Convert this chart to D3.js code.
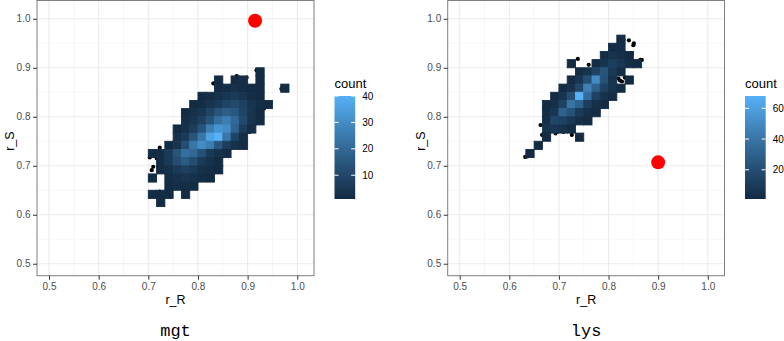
<!DOCTYPE html>
<html>
<head>
<meta charset="UTF-8">
<script src="https://d3js.org/d3.v7.min.js"></script>
<style>
  body { margin: 0; background: #fff; }
  svg { display: block; font-family: "Liberation Sans", Arial, sans-serif; }
</style>
</head>
<body>
<svg width="784" height="341"></svg>
<script>
const axisTicks = [0.5, 0.6, 0.7, 0.8, 0.9, 1.0];
const minorTicks = [0.55, 0.65, 0.75, 0.85, 0.95];
const binOrigin = 0.5, binWidth = 1 / 60;

// bin rows: [row index, first column index, counts...]
const mgtBins = [
  [23, 25, [1]],
  [22, 20, [1]], [22, 22, [1, 2]], [22, 25, [1]],
  [21, 20, [1, 2, 3, 2, 1, 1]], [21, 28, [1]],
  [20, 18, [1, 2, 3, 5, 6, 4, 2, 1]],
  [19, 17, [1, 2, 4, 6, 9, 11, 8, 4, 2, 1]],
  [18, 16, [1, 3, 5, 9, 14, 17, 15, 9, 4, 1]],
  [17, 16, [2, 4, 8, 14, 22, 26, 20, 11, 4, 1]],
  [16, 15, [1, 3, 7, 14, 26, 32, 30, 18, 7, 2]],
  [15, 15, [3, 6, 14, 24, 36, 40, 24, 9, 2]],
  [14, 14, [1, 4, 12, 24, 30, 26, 15, 7, 3, 1]],
  [13, 12, [1, 2, 6, 14, 22, 20, 13, 6, 3, 1]],
  [12, 13, [2, 6, 12, 16, 12, 6, 3, 1]],
  [11, 13, [1, 3, 6, 8, 6, 3, 2, 1]],
  [10, 12, [1]], [10, 14, [2, 3, 4, 3, 2, 1]],
  [9, 14, [1, 2, 2, 1]],
  [8, 12, [1, 1, 1]], [8, 16, [1]],
  [7, 13, [1]]
];
const lysBins = [
  [27, 19, [2]],
  [26, 18, [1, 3]],
  [25, 17, [2, 5, 4, 1]],
  [24, 13, [1]], [24, 16, [2, 6, 12, 8, 3, 1]],
  [23, 14, [2, 6, 14, 24, 9, 3]],
  [22, 13, [2, 8, 20, 50, 22, 6]], [22, 20, [1]],
  [21, 12, [1, 5, 16, 45, 30, 14, 6, 2]],
  [20, 11, [1, 6, 20, 68, 36, 14, 5, 2]],
  [19, 10, [1, 4, 14, 40, 30, 12, 4, 2]],
  [18, 10, [2, 8, 30, 22, 10, 4, 2]],
  [17, 10, [3, 16, 14, 8, 4, 2]],
  [16, 10, [6, 8, 5, 2]],
  [15, 10, [1]], [15, 14, [1]],
  [14, 9, [1]],
  [13, 8, [1]]
];

// raw points that peek out around the bins
const mgtPoints = [[0.918, 0.895], [0.878, 0.883], [0.898, 0.880], [0.831, 0.868], [0.915, 0.810],
  [0.933, 0.817], [0.901, 0.776], [0.904, 0.769], [0.884, 0.749], [0.864, 0.735], [0.968, 0.857],
  [0.723, 0.737], [0.703, 0.717], [0.710, 0.698], [0.707, 0.691], [0.710, 0.644], [0.723, 0.647], [0.717, 0.715]];
const lysPoints = [[0.841, 0.956], [0.851, 0.950], [0.847, 0.929], [0.864, 0.916], [0.867, 0.916],
  [0.738, 0.918], [0.820, 0.878], [0.827, 0.872], [0.823, 0.874], [0.833, 0.880], [0.663, 0.783],
  [0.666, 0.763], [0.672, 0.769], [0.693, 0.766], [0.696, 0.769], [0.709, 0.769], [0.726, 0.763],
  [0.636, 0.719], [0.632, 0.718], [0.760, 0.906], [0.780, 0.912], [0.830, 0.957], [0.850, 0.946]];

const mgtTrue = [0.915, 0.996];
const lysTrue = [0.900, 0.707];

const mgtBreaks = [10, 20, 30, 40];
const lysBreaks = [20, 40, 60];

const panels = [
  { name: "mgt", bins: mgtBins, points: mgtPoints, truth: mgtTrue, breaks: mgtBreaks, left: 37, right: 314 },
  { name: "lys", bins: lysBins, points: lysPoints, truth: lysTrue, breaks: lysBreaks, left: 447.7, right: 724.5 }
];

const panelTop = 0.5, panelBottom = 275.7;
const svg = d3.select("svg");

panels.forEach(p => {
  const cells = [];
  p.bins.forEach(([row, col, counts]) => {
    counts.forEach((c, k) => cells.push({ i: col + k, j: row, count: c }));
  });

  const x = d3.scaleLinear().domain([0.4758, 1.0337]).range([p.left, p.right]);
  const y = d3.scaleLinear().domain([0.4756, 1.0373]).range([panelBottom, panelTop]);
  const extent = d3.extent(cells, d => d.count);
  const fill = d3.scaleLinear().domain(extent).range(["#132B43", "#56B1F7"]).interpolate(d3.interpolateLab);

  const g = svg.append("g");

  // grid
  g.selectAll(".minx").data(minorTicks).enter().append("line")
    .attr("x1", d => x(d)).attr("x2", d => x(d)).attr("y1", panelTop).attr("y2", panelBottom)
    .attr("stroke", "#F2F2F2").attr("stroke-width", 0.6);
  g.selectAll(".miny").data(minorTicks).enter().append("line")
    .attr("y1", d => y(d)).attr("y2", d => y(d)).attr("x1", p.left).attr("x2", p.right)
    .attr("stroke", "#F2F2F2").attr("stroke-width", 0.6);
  g.selectAll(".majx").data(axisTicks).enter().append("line")
    .attr("x1", d => x(d)).attr("x2", d => x(d)).attr("y1", panelTop).attr("y2", panelBottom)
    .attr("stroke", "#EBEBEB").attr("stroke-width", 1.1);
  g.selectAll(".majy").data(axisTicks).enter().append("line")
    .attr("y1", d => y(d)).attr("y2", d => y(d)).attr("x1", p.left).attr("x2", p.right)
    .attr("stroke", "#EBEBEB").attr("stroke-width", 1.1);

  // points under the bins
  g.selectAll(".pt").data(p.points).enter().append("circle")
    .attr("cx", d => x(d[0])).attr("cy", d => y(d[1])).attr("r", 2.1).attr("fill", "#000");

  g.selectAll(".bin").data(cells).enter().append("rect")
    .attr("x", d => x(binOrigin + d.i * binWidth))
    .attr("y", d => y(binOrigin + (d.j + 1) * binWidth))
    .attr("width", d => x(binOrigin + (d.i + 1) * binWidth) - x(binOrigin + d.i * binWidth))
    .attr("height", d => y(binOrigin + d.j * binWidth) - y(binOrigin + (d.j + 1) * binWidth))
    .attr("fill", d => fill(d.count))
    .attr("stroke", d => fill(d.count)).attr("stroke-width", 0.9);

  g.append("circle")
    .attr("cx", x(p.truth[0])).attr("cy", y(p.truth[1])).attr("r", 7).attr("fill", "#FF0000");

  g.append("rect")
    .attr("x", p.left).attr("y", panelTop).attr("width", p.right - p.left).attr("height", panelBottom - panelTop)
    .attr("fill", "none").attr("stroke", "#7F7F7F").attr("stroke-width", 1);

  // axes
  const ax = g.append("g").attr("transform", `translate(0,${panelBottom})`)
    .call(d3.axisBottom(x).tickValues(axisTicks).tickFormat(d3.format(".1f")).tickSize(4).tickPadding(3));
  const ay = g.append("g").attr("transform", `translate(${p.left},0)`)
    .call(d3.axisLeft(y).tickValues(axisTicks).tickFormat(d3.format(".1f")).tickSize(4).tickPadding(2.5));
  [ax, ay].forEach(a => {
    a.select(".domain").remove();
    a.selectAll(".tick line").attr("stroke", "#333333");
    a.selectAll(".tick text").attr("fill", "#4D4D4D").style("font-size", "10px")
      .style("font-family", "'Liberation Sans', Arial, sans-serif");
  });

  const cx = (p.left + p.right) / 2;
  g.append("text").attr("x", cx).attr("y", 304).attr("text-anchor", "middle")
    .style("font-size", "12.5px").text("r_R");
  g.append("text").attr("transform", `translate(${p.left - 23},${(panelTop + panelBottom) / 2 + 3}) rotate(-90)`)
    .attr("text-anchor", "middle").style("font-size", "12.5px").text("r_S");

  g.append("text").attr("x", cx).attr("y", 336).attr("text-anchor", "middle")
    .style("font-family", "'Liberation Mono', 'DejaVu Sans Mono', monospace").style("font-size", "17px")
    .text(p.name);

  // legend colourbar
  const lx = p.right + 20.5, lw = 20.7, ly0 = 96, ly1 = 199;
  const ls = d3.scaleLinear().domain(extent).range([ly1, ly0]);
  const gradId = "grad-" + p.name;
  const grad = svg.append("defs").append("linearGradient").attr("id", gradId)
    .attr("x1", 0).attr("y1", 1).attr("x2", 0).attr("y2", 0);
  d3.range(0, 1.0001, 0.1).forEach(t => {
    grad.append("stop").attr("offset", t).attr("stop-color", fill(extent[0] + t * (extent[1] - extent[0])));
  });
  g.append("text").attr("x", lx).attr("y", 88).style("font-size", "13px").text("count");
  g.append("rect").attr("x", lx).attr("y", ly0).attr("width", lw).attr("height", ly1 - ly0)
    .attr("fill", `url(#${gradId})`);
  p.breaks.forEach(b => {
    g.append("line").attr("x1", lx).attr("x2", lx + 4).attr("y1", ls(b)).attr("y2", ls(b))
      .attr("stroke", "#fff").attr("stroke-width", 1);
    g.append("line").attr("x1", lx + lw - 4).attr("x2", lx + lw).attr("y1", ls(b)).attr("y2", ls(b))
      .attr("stroke", "#fff").attr("stroke-width", 1);
    g.append("text").attr("x", lx + lw + 7).attr("y", ls(b)).attr("dy", "0.35em")
      .style("font-size", "10px").attr("fill", "#000").text(b);
  });
});
</script>
</body>
</html>
